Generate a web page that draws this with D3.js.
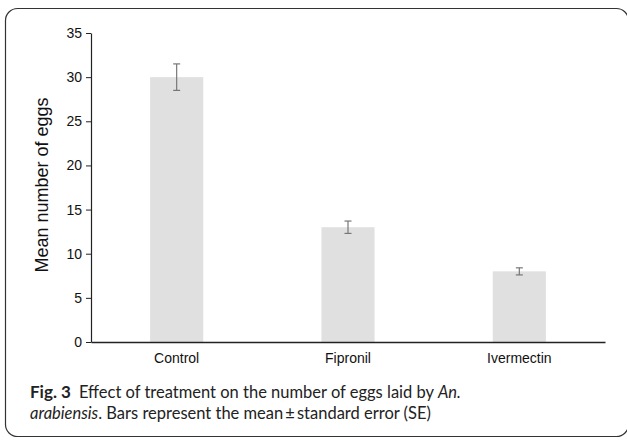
<!DOCTYPE html>
<html>
<head>
<meta charset="utf-8">
<script src="https://cdn.jsdelivr.net/npm/d3@7"></script>
<style>
  html, body { margin: 0; padding: 0; background: #fff; }
  svg { display: block; }
</style>
</head>
<body>
<svg id="chart" width="627" height="440"></svg>
<script>
// Mean eggs laid per treatment, with standard error
const categories = ["Control", "Fipronil", "Ivermectin"];
const means = [30, 13, 8];
const errors = [1.5, 0.7, 0.4];
const yTicks = [0, 5, 10, 15, 20, 25, 30, 35];

const svg = d3.select("#chart");

// Figure frame with rounded corners
svg.append("rect")
  .attr("x", 5.5).attr("y", 8.5)
  .attr("width", 623).attr("height", 428)
  .attr("rx", 12).attr("ry", 12)
  .attr("fill", "none")
  .attr("stroke", "#333").attr("stroke-width", 1.2);

const plotLeft = 91, plotRight = 605, plotTop = 33, plotBottom = 342;

const x = d3.scaleBand().domain(categories).range([plotLeft, plotRight])
  .paddingInner(0.69).paddingOuter(0.345);
const y = d3.scaleLinear().domain([0, 35]).range([plotBottom, plotTop]);

// Bars
svg.append("g").selectAll("rect")
  .data(categories)
  .join("rect")
  .attr("x", d => x(d))
  .attr("width", x.bandwidth())
  .attr("y", (d, i) => y(means[i]))
  .attr("height", (d, i) => y(0) - y(means[i]))
  .attr("fill", "#e0e0e0");

// Error bars
const eb = svg.append("g").attr("stroke", "#777").attr("stroke-width", 1.2);
categories.forEach((c, i) => {
  const cx = x(c) + x.bandwidth() / 2;
  const hi = y(means[i] + errors[i]), lo = y(means[i] - errors[i]);
  eb.append("line").attr("x1", cx).attr("x2", cx).attr("y1", hi).attr("y2", lo);
  eb.append("line").attr("x1", cx - 3.5).attr("x2", cx + 3.5).attr("y1", hi).attr("y2", hi);
  eb.append("line").attr("x1", cx - 3.5).attr("x2", cx + 3.5).attr("y1", lo).attr("y2", lo);
});

// Y axis
const yAxis = svg.append("g")
  .attr("transform", `translate(${plotLeft},0)`)
  .call(d3.axisLeft(y).tickValues(yTicks).tickSize(5).tickSizeOuter(0).tickPadding(4));
yAxis.select(".domain").attr("stroke", "#222").attr("stroke-width", 1.2);
yAxis.selectAll(".tick line").attr("stroke", "#222").attr("stroke-width", 1);
yAxis.selectAll(".tick text")
  .attr("font-family", "Liberation Sans, Arial, sans-serif")
  .attr("font-size", 14).attr("fill", "#111");

// X axis
const xAxis = svg.append("g")
  .attr("transform", `translate(0,${plotBottom})`)
  .call(d3.axisBottom(x).tickSize(0).tickPadding(11));
xAxis.select(".domain").attr("stroke", "#222").attr("stroke-width", 1.5);
xAxis.selectAll(".tick text")
  .attr("font-family", "Liberation Sans, Arial, sans-serif")
  .attr("font-size", 14).attr("fill", "#111");

// Y axis title
svg.append("text")
  .attr("transform", `translate(48,185) rotate(-90)`)
  .attr("text-anchor", "middle")
  .attr("font-family", "Liberation Sans, Arial, sans-serif")
  .attr("font-size", 18).attr("fill", "#111")
  .text("Mean number of eggs");

// Caption
const cap = svg.append("g")
  .attr("font-family", "Lato, 'Open Sans', sans-serif")
  .attr("font-size", 16.5).attr("fill", "#222");
const l1 = cap.append("text").attr("x", 30).attr("y", 398);
l1.append("tspan").attr("font-weight", "bold").attr("font-size", 17).text("Fig. 3");
l1.append("tspan").attr("dx", 8).text("Effect of treatment on the number of eggs laid by ");
l1.append("tspan").attr("font-style", "italic").text("An.");
const l2 = cap.append("text").attr("x", 30).attr("y", 419);
l2.append("tspan").attr("font-style", "italic").text("arabiensis");
l2.append("tspan").text(". Bars represent the mean\u2009\u00b1\u2009standard error (SE)");
</script>
</body>
</html>
